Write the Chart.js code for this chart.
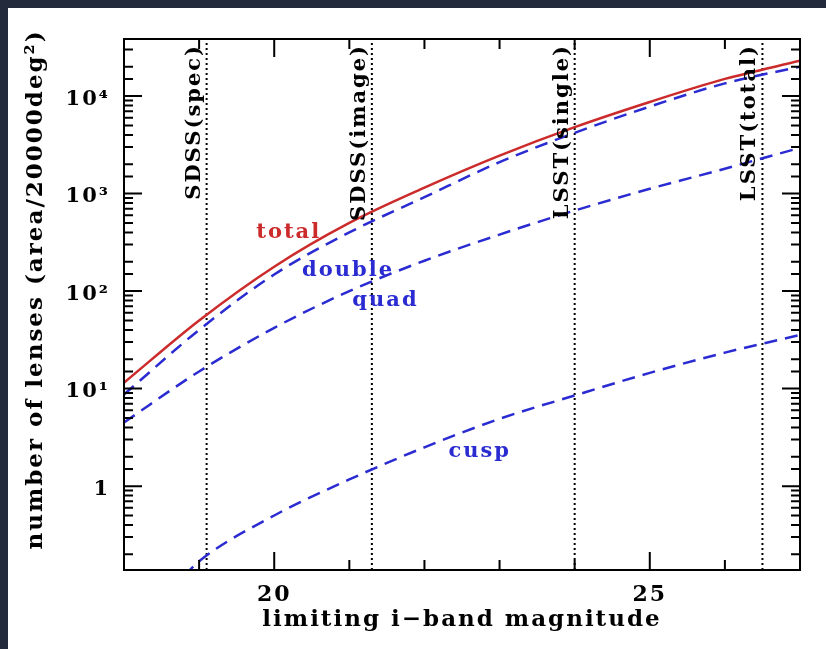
<!DOCTYPE html>
<html>
<head>
<meta charset="utf-8">
<script src="https://cdn.jsdelivr.net/npm/chart.js@4.4.1/dist/chart.umd.min.js"></script>
<style>
  html, body { margin: 0; padding: 0; background: #222a3b; }
  body { width: 826px; height: 649px; overflow: hidden; position: relative; }
  #wrap { position: absolute; left: 8px; top: 8px; width: 818px; height: 641px; background: #fff; }
</style>
</head>
<body>
<div id="wrap"><canvas id="lensChart" width="818" height="641"></canvas></div>
<script>
// limiting i-band magnitude samples
const mags = [18, 19, 20, 21, 22, 23, 24, 25, 26, 27];
const totalLenses = [11.5, 50, 178, 500, 1150, 2450, 4800, 8700, 15000, 23000];
const doubleLenses = [8.7, 40, 148, 400, 920, 2100, 4200, 7800, 13500, 20000];
const quadLenses = [4.5, 15, 42, 100, 205, 380, 670, 1120, 1800, 2950];
// cusp curve only enters the plot near m = 18.9
const cuspMags = [18.8, 19, 20, 21, 22, 23, 24, 25, 26, 27];
const cuspLenses = [0.12, 0.17, 0.5, 1.17, 2.5, 4.9, 8.5, 14.5, 23.4, 35.5];

// survey depth markers
const surveyNames = ['SDSS(spec)', 'SDSS(image)', 'LSST(single)', 'LSST(total)'];
const surveyMags = [19.1, 21.3, 24.0, 26.5];

// axes
const xMin = 18, xMax = 27;
const yMin = 0.138, yMax = 38500;
const xTickShown = [20, 25];
const yTickValues = [1, 10, 100, 1000, 10000];
const yTickLabels = ['1', '10¹', '10²', '10³', '10⁴'];

// curve names, placed at (magnitude, count) of the text baseline start
const curveNames = ['total', 'double', 'quad', 'cusp'];
const curveNameMags = [19.76, 20.37, 21.04, 22.32];
const curveNameCounts = [348, 142, 70, 2.0];

const RED = '#cc2b2b';
const BLUE = '#2b2bd2';
const curveColors = [RED, BLUE, BLUE, BLUE];

const pts = (xs, ys) => xs.map((x, i) => ({x: x, y: ys[i]}));

function curve(label, data, color, dash) {
    return {
        label: label,
        data: data,
        borderColor: color,
        borderWidth: 2.5,
        borderDash: dash,
        pointRadius: 0,
        cubicInterpolationMode: 'monotone',
        fill: false
    };
}

const datasets = [
    curve('total', pts(mags, totalLenses), RED, []),
    curve('double', pts(mags, doubleLenses), BLUE, [13, 8]),
    curve('quad', pts(mags, quadLenses), BLUE, [13, 8]),
    curve('cusp', pts(cuspMags, cuspLenses), BLUE, [13, 8])
];
surveyMags.forEach((m, i) => {
    datasets.push({
        label: surveyNames[i],
        data: [{x: m, y: yMin}, {x: m, y: yMax}],
        borderColor: '#000',
        borderWidth: 2,
        borderDash: [2, 3],
        pointRadius: 0
    });
});

// wider letters, like the original plotting font
const spacing = {
    id: 'spacing',
    beforeDraw(chart) { chart.ctx.letterSpacing = '2px'; }
};

// inward ticks on all four sides + frame
const frameTicks = {
    id: 'frameTicks',
    afterDraw(chart) {
        const {ctx, chartArea: a, scales: {x, y}} = chart;
        ctx.save();
        ctx.strokeStyle = '#000';
        ctx.lineWidth = 2;
        ctx.beginPath();
        x.ticks.forEach(t => {
            const px = x.getPixelForValue(t.value);
            if (px <= a.left + 1 || px >= a.right - 1) return;
            const len = Math.round(t.value) % 5 === 0 ? 18 : 10;
            ctx.moveTo(px, a.bottom); ctx.lineTo(px, a.bottom - len);
            ctx.moveTo(px, a.top); ctx.lineTo(px, a.top + len);
        });
        y.ticks.forEach(t => {
            const py = y.getPixelForValue(t.value);
            if (py <= a.top + 1 || py >= a.bottom - 1) return;
            const e = Math.log10(t.value);
            const len = Math.abs(e - Math.round(e)) < 1e-6 ? 18 : 9;
            ctx.moveTo(a.left, py); ctx.lineTo(a.left + len, py);
            ctx.moveTo(a.right, py); ctx.lineTo(a.right - len, py);
        });
        ctx.stroke();
        ctx.strokeRect(a.left, a.top, a.right - a.left, a.bottom - a.top);
        ctx.restore();
    }
};

// survey names along the dotted lines, curve names next to the curves
const textLabels = {
    id: 'textLabels',
    afterDatasetsDraw(chart) {
        const {ctx, chartArea: a, scales: {x, y}} = chart;
        ctx.save();
        ctx.textBaseline = 'alphabetic';
        ctx.font = 'bold 21px "DejaVu Serif"';
        ctx.fillStyle = '#000';
        ctx.textAlign = 'right';
        surveyMags.forEach((m, i) => {
            ctx.save();
            ctx.translate(x.getPixelForValue(m) - 7, a.top + 5);
            ctx.rotate(-Math.PI / 2);
            ctx.fillText(surveyNames[i], 0, 0);
            ctx.restore();
        });
        ctx.font = 'bold 21px "DejaVu Serif"';
        ctx.textAlign = 'left';
        curveNames.forEach((name, i) => {
            ctx.fillStyle = curveColors[i];
            ctx.fillText(name, x.getPixelForValue(curveNameMags[i]), y.getPixelForValue(curveNameCounts[i]));
        });
        ctx.restore();
    }
};

Chart.defaults.font.family = '"DejaVu Serif", serif';
Chart.defaults.font.weight = 'bold';
Chart.defaults.color = '#000';

const ctx = document.getElementById('lensChart').getContext('2d');
const lensChart = new Chart(ctx, {
    type: 'line',
    data: { datasets: datasets },
    options: {
        responsive: false,
        animation: false,
        layout: { padding: { top: 31, right: 26, left: 0, bottom: 0 } },
        plugins: {
            legend: { display: false },
            tooltip: { enabled: false }
        },
        scales: {
            x: {
                type: 'linear',
                min: xMin,
                max: xMax,
                grid: { display: false },
                border: { display: false },
                ticks: {
                    stepSize: 1,
                    autoSkip: false,
                    maxRotation: 0,
                    padding: 4,
                    font: { size: 22, weight: 'bold' },
                    callback: v => xTickShown.includes(Math.round(v)) ? String(Math.round(v)) : ''
                },
                title: {
                    display: true,
                    text: 'limiting i−band magnitude',
                    font: { size: 23, weight: 'bold' },
                    padding: { top: 0, bottom: 15 }
                },
                afterFit(scale) { scale.height = 79; }
            },
            y: {
                type: 'logarithmic',
                min: yMin,
                max: yMax,
                grid: { display: false },
                border: { display: false },
                ticks: {
                    autoSkip: false,
                    padding: 6,
                    labelOffset: 3,
                    font: { size: 21, weight: 'bold' },
                    callback: v => {
                        const i = yTickValues.findIndex(t => Math.abs(t - v) < t * 1e-6);
                        return i >= 0 ? yTickLabels[i] : '';
                    }
                },
                title: {
                    display: true,
                    text: '   number of lenses (area/20000deg²)',
                    font: { size: 23, weight: 'bold' },
                    padding: { top: 14, bottom: 0 }
                },
                afterFit(scale) { scale.width = 116; }
            }
        }
    },
    plugins: [spacing, textLabels, frameTicks]
});
</script>
</body>
</html>
